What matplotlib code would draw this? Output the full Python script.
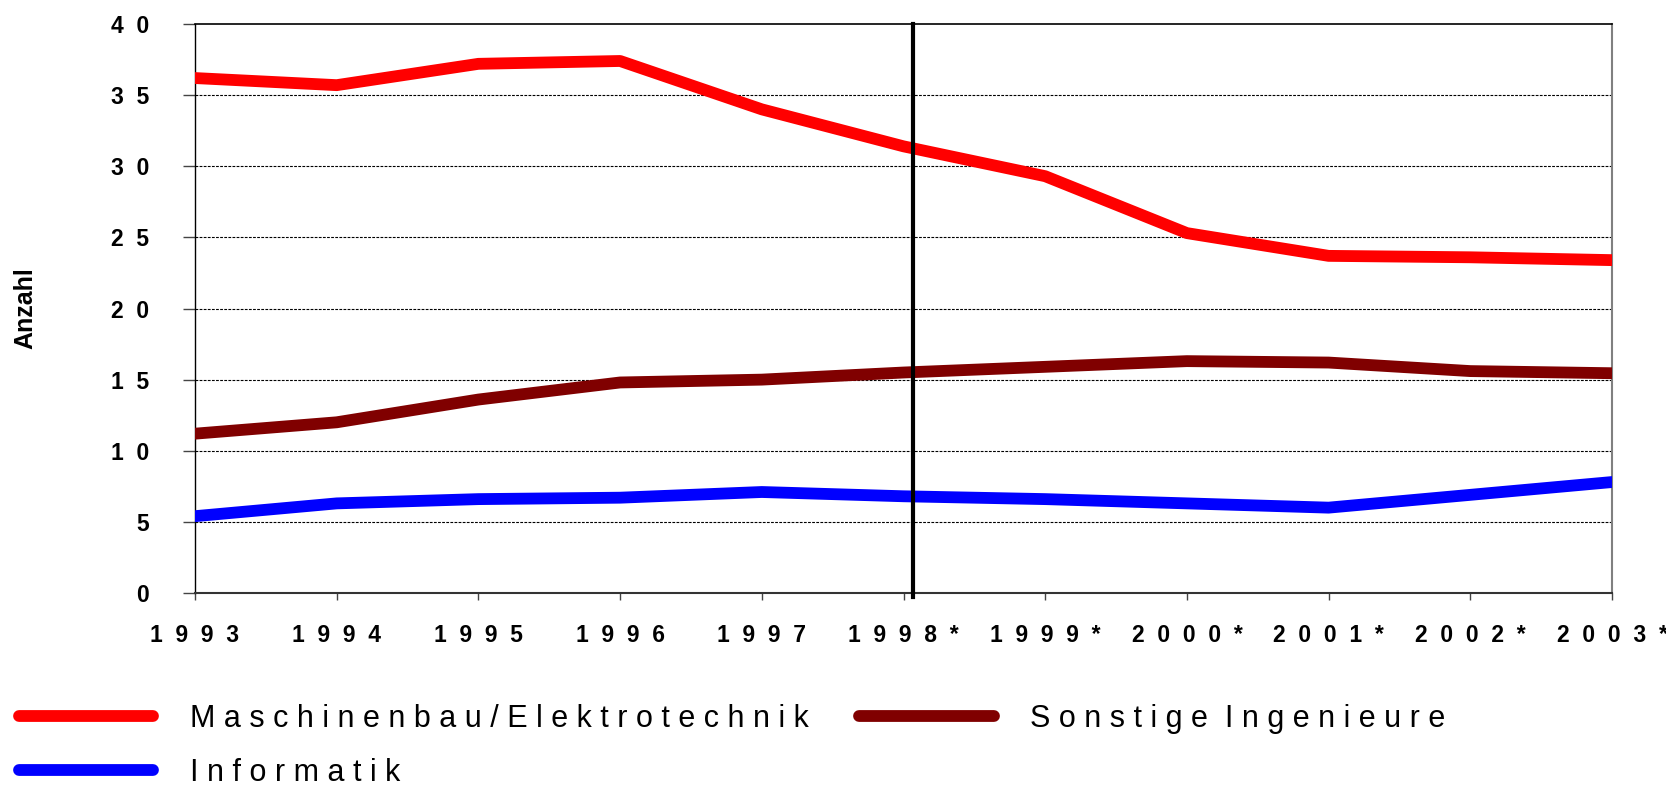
import matplotlib
matplotlib.use("Agg")
import matplotlib.pyplot as plt

plt.rcParams['font.family'] = ['Liberation Sans', 'DejaVu Sans']

# Data
years = ['1993', '1994', '1995', '1996', '1997', '1998*',
         '1999*', '2000*', '2001*', '2002*', '2003*']
maschinenbau = [36.2, 35.7, 37.2, 37.4, 34.0, 31.4, 29.3, 25.3, 23.7, 23.6, 23.4]
sonstige = [11.2, 12.0, 13.6, 14.8, 15.0, 15.5, 15.9, 16.3, 16.2, 15.6, 15.45]
informatik = [5.4, 6.3, 6.6, 6.7, 7.1, 6.8, 6.6, 6.3, 6.0, 6.9, 7.8]
y_ticks = [0, 5, 10, 15, 20, 25, 30, 35, 40]
# divider between observed and estimated years (just right of 1998*)
divider_pos = 5.07

labels = ['M a s c h i n e n b a u / E l e k t r o t e c h n i k',
          'S o n s t i g e  I n g e n i e u r e',
          'I n f o r m a t i k']
colors = ['#FF0000', '#800000', '#0000FF']


def spaced(s):
    return '  '.join(s)


fig = plt.figure(figsize=(16.66, 7.88), dpi=100)
ax = fig.add_axes([195 / 1666, 1 - 593 / 788, (1612 - 195) / 1666, (593 - 24) / 788])

x = list(range(len(years)))
lw = 8.5
l1, = ax.plot(x, maschinenbau, color=colors[0], lw=lw, solid_capstyle='round',
              solid_joinstyle='round', label=labels[0], zorder=3)
l2, = ax.plot(x, sonstige, color=colors[1], lw=lw, solid_capstyle='round',
              solid_joinstyle='round', label=labels[1], zorder=3)
l3, = ax.plot(x, informatik, color=colors[2], lw=lw, solid_capstyle='round',
              solid_joinstyle='round', label=labels[2], zorder=3)

ax.plot([divider_pos, divider_pos], [40, -0.3], color='black', lw=3,
        clip_on=False, zorder=4)

ax.set_xlim(0, len(years) - 1)
ax.set_ylim(0, 40)

# grid
for v in y_ticks[1:-1]:
    ax.axhline(v, color='black', lw=0.8, ls=(0, (2.5, 1.2)), zorder=1)

ax.set_yticks(y_ticks)
ax.set_yticklabels([spaced(str(v)) for v in y_ticks], fontsize=16.5, fontweight='bold')
ax.set_xticks(x)
ax.set_xticklabels([spaced(y) for y in years], fontsize=16.5, fontweight='bold')
ax.tick_params(axis='y', length=9, width=1, pad=24, color='#444444')
ax.tick_params(axis='x', length=5, width=1, pad=17, color='#444444')

ax.spines['left'].set_color('black')
ax.spines['left'].set_linewidth(1)
ax.spines['top'].set_color('black')
ax.spines['top'].set_linewidth(1.2)
ax.spines['right'].set_color('#808080')
ax.spines['right'].set_linewidth(1.5)
ax.spines['bottom'].set_color('#333333')
ax.spines['bottom'].set_linewidth(1.5)

ax.set_ylabel('Anzahl', fontsize=18, fontweight='bold', labelpad=0)
ax.yaxis.set_label_coords((37 - 195) / 1417, 0.5)

fig.legend([l1, l3, l2], [labels[0], labels[2], labels[1]], ncol=2,
           loc='upper left', bbox_to_anchor=(19 / 1666, 1 - 704 / 788),
           frameon=False, fontsize=22, handlelength=4.4, handletextpad=1.2,
           columnspacing=1.65, labelspacing=0.78, borderpad=0, borderaxespad=0)

fig.savefig('out.png', dpi=100)
